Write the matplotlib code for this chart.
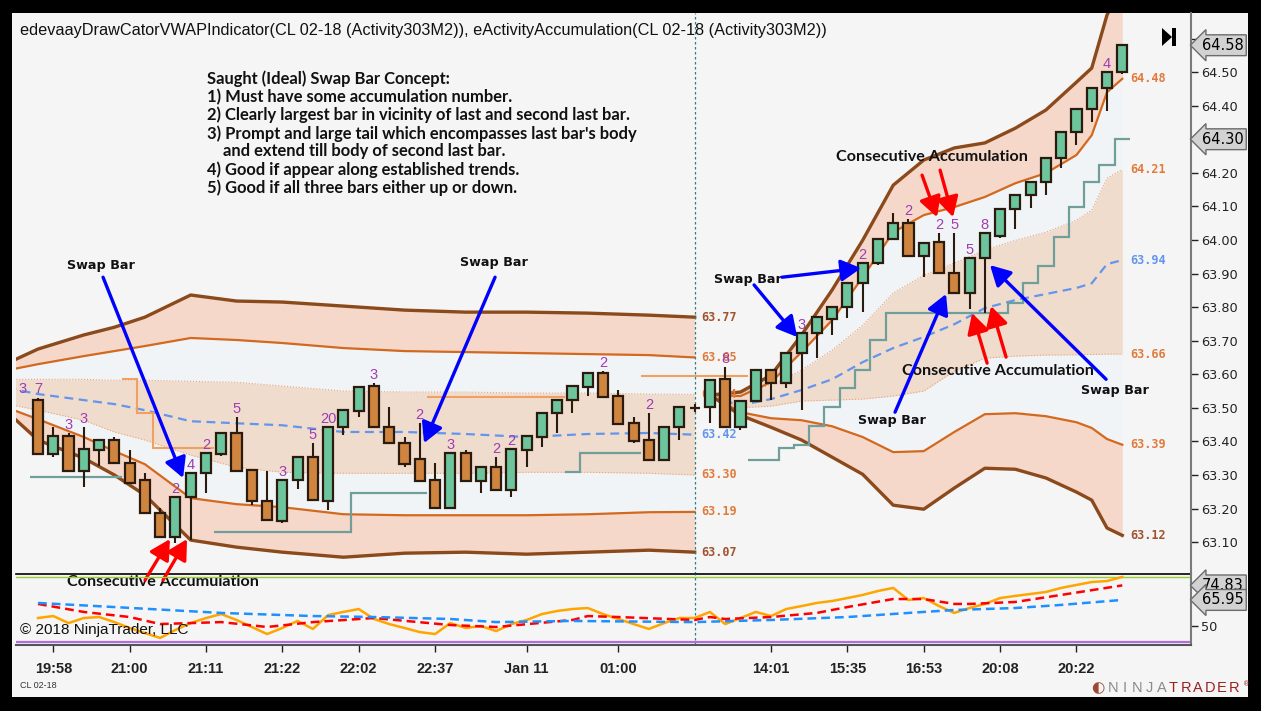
import matplotlib
matplotlib.use("Agg")
import matplotlib.pyplot as plt
from matplotlib.patches import Rectangle, Polygon

# ─────────────────────────────────────────────────────────────────────────────
# DATA (CL 02-18 Activity303M2 bars)
# ─────────────────────────────────────────────────────────────────────────────

bar_open = [63.523, 63.362, 63.416, 63.311, 63.374, 63.404, 63.335, 63.285, 63.186, 63.115,
            63.234, 63.305, 63.362, 63.425, 63.314, 63.222, 63.163, 63.285, 63.353, 63.222,
            63.443, 63.490, 63.565, 63.443, 63.395, 63.347, 63.285, 63.201, 63.365, 63.282,
            63.323, 63.255, 63.374, 63.413, 63.484, 63.523, 63.562, 63.603, 63.535, 63.454,
            63.404, 63.344, 63.443, 63.500, 63.502, 63.586, 63.443, 63.520, 63.612, 63.574,
            63.663, 63.722, 63.764, 63.800, 63.871, 63.931, 64.003, 64.050, 63.952, 63.994,
            63.901, 63.842, 63.946, 64.011, 64.092, 64.134, 64.172, 64.244, 64.321, 64.390,
            64.452, 64.500]
bar_high = [63.530, 63.443, 63.425, 63.443, 63.404, 63.413, 63.374, 63.305, 63.201, 63.234,
            63.305, 63.365, 63.425, 63.472, 63.314, 63.311, 63.285, 63.353, 63.395, 63.443,
            63.493, 63.562, 63.574, 63.502, 63.413, 63.454, 63.335, 63.365, 63.374, 63.323,
            63.353, 63.377, 63.416, 63.484, 63.523, 63.565, 63.603, 63.609, 63.553, 63.472,
            63.484, 63.443, 63.502, 63.512, 63.583, 63.621, 63.520, 63.612, 63.612, 63.663,
            63.722, 63.770, 63.800, 63.871, 63.931, 64.003, 64.080, 64.062, 63.991, 64.020,
            64.020, 63.946, 64.020, 64.092, 64.134, 64.172, 64.244, 64.321, 64.390, 64.452,
            64.500, 64.580]
bar_low = [63.362, 63.353, 63.311, 63.264, 63.326, 63.335, 63.276, 63.186, 63.115, 63.097,
           63.106, 63.246, 63.356, 63.311, 63.210, 63.165, 63.157, 63.258, 63.225, 63.195,
           63.419, 63.472, 63.443, 63.395, 63.323, 63.282, 63.201, 63.201, 63.282, 63.246,
           63.255, 63.234, 63.323, 63.383, 63.425, 63.484, 63.535, 63.532, 63.451, 63.395,
           63.344, 63.344, 63.404, 63.488, 63.454, 63.443, 63.434, 63.520, 63.523, 63.559,
           63.493, 63.648, 63.717, 63.767, 63.785, 63.925, 64.003, 63.952, 63.889, 63.901,
           63.842, 63.794, 63.782, 64.006, 64.032, 64.095, 64.134, 64.214, 64.283, 64.351,
           64.384, 64.494]
bar_close = [63.362, 63.416, 63.311, 63.377, 63.404, 63.335, 63.276, 63.186, 63.115, 63.234,
             63.305, 63.365, 63.425, 63.311, 63.222, 63.165, 63.285, 63.353, 63.225, 63.443,
             63.493, 63.562, 63.443, 63.395, 63.332, 63.282, 63.201, 63.365, 63.282, 63.323,
             63.255, 63.377, 63.416, 63.484, 63.523, 63.565, 63.603, 63.532, 63.451, 63.401,
             63.344, 63.443, 63.502, 63.500, 63.583, 63.443, 63.520, 63.612, 63.574, 63.663,
             63.722, 63.770, 63.800, 63.871, 63.931, 64.003, 64.050, 63.952, 63.991, 63.901,
             63.842, 63.946, 64.020, 64.092, 64.134, 64.172, 64.244, 64.321, 64.390, 64.452,
             64.500, 64.580]

# accumulation counts printed over bars
acc_bar = [-1, 0, 2, 3, 9, 10, 11, 13, 16, 18, 19, 22, 25, 27, 30, 31, 37, 40,
           45, 50, 54, 57, 59, 60, 61, 62, 70]
acc_txt = ['3', '7', '3', '3', '2', '4', '2', '5', '3', '5', '20', '3', '2', '3', '2', '2', '2', '2',
           '8', '3', '2', '2', '2', '5', '5', '8', '4']

# VWAP + deviation bands, session 1
s1_x = [-2, 0, 3, 5, 7, 10, 13, 16, 20, 24, 28, 32, 36, 40, 43]
s1_outer_up = [63.633, 63.675, 63.717, 63.740, 63.770, 63.836, 63.818, 63.815, 63.803, 63.791,
               63.785, 63.785, 63.782, 63.776, 63.77]
s1_inner_up = [63.612, 63.630, 63.654, 63.669, 63.684, 63.708, 63.702, 63.693, 63.678, 63.669,
               63.666, 63.663, 63.660, 63.657, 63.65]
s1_mid_up = [63.585, 63.585, 63.585, 63.582, 63.582, 63.579, 63.576, 63.565, 63.550, 63.547,
             63.547, 63.544, 63.544, 63.541, 63.54]
s1_vwap = [63.559, 63.541, 63.523, 63.511, 63.493, 63.460, 63.454, 63.448, 63.428, 63.428,
           63.422, 63.413, 63.422, 63.425, 63.42]
s1_mid_dn = [63.511, 63.493, 63.463, 63.428, 63.404, 63.359, 63.323, 63.308, 63.305, 63.305,
             63.305, 63.308, 63.308, 63.305, 63.30]
s1_inner_dn = [63.500, 63.466, 63.413, 63.371, 63.332, 63.231, 63.213, 63.204, 63.183, 63.180,
               63.180, 63.180, 63.183, 63.189, 63.19]
s1_outer_dn = [63.487, 63.404, 63.350, 63.300, 63.240, 63.106, 63.085, 63.070, 63.055, 63.067,
               63.070, 63.064, 63.070, 63.076, 63.07]

# session 2
s2_x = [44, 46, 48, 50, 52, 54, 56, 58, 60, 62, 64, 66, 68, 69, 70, 71]
s2_outer_up = [63.538, 63.547, 63.597, 63.717, 63.851, 63.999, 64.163, 64.238, 64.274, 64.289,
               64.333, 64.387, 64.470, 64.512, 64.670, 64.76]
s2_inner_up = [63.538, 63.535, 63.576, 63.666, 63.761, 63.889, 64.023, 64.074, 64.098, 64.128,
               64.169, 64.199, 64.253, 64.312, 64.440, 64.48]
s2_mid_up = [63.535, 63.544, 63.568, 63.612, 63.672, 63.746, 63.842, 63.895, 63.931, 63.970,
             63.999, 64.023, 64.059, 64.089, 64.184, 64.21]
s2_vwap = [63.532, 63.508, 63.526, 63.553, 63.585, 63.636, 63.678, 63.711, 63.749, 63.797,
           63.821, 63.839, 63.857, 63.871, 63.928, 63.94]
s2_mid_dn = [63.532, 63.500, 63.505, 63.520, 63.523, 63.526, 63.535, 63.550, 63.609, 63.648,
             63.654, 63.657, 63.658, 63.659, 63.66, 63.66]
s2_inner_dn = [63.538, 63.487, 63.469, 63.463, 63.445, 63.413, 63.368, 63.371, 63.428, 63.481,
               63.484, 63.475, 63.457, 63.440, 63.407, 63.39]
s2_outer_dn = [63.538, 63.478, 63.442, 63.404, 63.353, 63.302, 63.210, 63.198, 63.261, 63.320,
               63.317, 63.291, 63.249, 63.225, 63.142, 63.12]

# step levels (edges in bar units)
teal_a_edges, teal_a_vals = [-0.5, 5.5], [63.294]
teal_b_edges, teal_b_vals = [11.5, 20.5, 25.5], [63.130, 63.246]
teal_c_edges, teal_c_vals = [34.5, 35.5, 39.5], [63.308, 63.365]
teal_d_edges = [46.5, 48.5, 49.5, 50.5, 51.5, 52.5, 53.5, 54.5, 55.5, 63.5, 64.5, 65.5, 66.5,
                67.5, 68.5, 69.5, 70.5, 71.5]
teal_d_vals = [63.344, 63.380, 63.390, 63.445, 63.502, 63.559, 63.612, 63.702, 63.782, 63.812,
               63.871, 63.922, 64.008, 64.098, 64.172, 64.223, 64.300]
orng_a_edges, orng_a_vals = [5.5, 6.5, 7.5, 11.5], [63.585, 63.484, 63.380]
orng_b_edges, orng_b_vals = [25.5, 34.5], [63.532]
orng_c_edges, orng_c_vals = [39.5, 46.5], [63.594]

# lower panel (eActivityAccumulation)
osc_fast = [54.9, 56.1, 51.8, 54.9, 55.5, 52.4, 48.8, 45.7, 42.7, 47.6,
            51.8, 54.9, 57.3, 53.7, 49.4, 45.1, 48.8, 53.1, 48.2, 56.7,
            58.6, 60.4, 54.3, 51.2, 48.8, 46.3, 45.1, 51.8, 48.8, 50.0,
            46.9, 51.2, 53.7, 57.3, 59.2, 60.4, 61.0, 57.3, 54.3, 51.2,
            48.2, 51.8, 54.9, 54.9, 58.6, 51.2, 54.9, 58.6, 56.1, 60.4,
            62.2, 64.1, 65.3, 67.1, 69.0, 71.4, 73.3, 65.9, 67.1, 62.2,
            58.0, 61.0, 63.5, 67.1, 68.4, 69.6, 70.8, 73.3, 75.1, 76.9,
            77.5, 80.0]
osc_red_x = [0, 3, 6, 8, 12, 15, 18, 22, 27, 30, 35, 36, 38, 43, 44, 45, 48, 51, 53, 56,
             58, 60, 61, 64, 67, 71]
osc_red = [63.5, 58.6, 55.5, 51.2, 52.4, 49.4, 52.4, 54.9, 50.6, 49.4, 53.7, 56.1, 55.5, 53.7,
           55.5, 54.3, 55.5, 58.0, 61.6, 66.5, 66.5, 63.5, 63.5, 64.7, 69.0, 74.83]
osc_blue_x = [0, 5, 12, 18, 22, 27, 30, 35, 43, 48, 53, 57, 60, 64, 67, 71]
osc_blue = [64.1, 61.6, 58.0, 56.1, 55.5, 54.3, 52.4, 53.1, 52.4, 53.7, 55.5, 58.0, 59.8,
            61.0, 62.9, 65.95]

tick_bars = [1, 6, 11, 16, 21, 26, 32, 38, 48, 53, 58, 63, 68]
tick_text = ['19:58', '21:00', '21:11', '21:22', '22:02', '22:37', 'Jan 11', '01:00',
             '14:01', '15:35', '16:53', '20:08', '20:22']

price_ticks = [63.1 + 0.1 * k for k in range(16)]

concept_lines = [
    "Saught (Ideal) Swap Bar Concept:",
    "1) Must have some accumulation number.",
    "2) Clearly largest bar in vicinity of last and second last bar.",
    "3) Prompt and large tail which encompasses last bar's body",
    "    and extend till body of second last bar.",
    "4) Good if appear along established trends.",
    "5) Good if all three bars either up or down.",
]

# ─────────────────────────────────────────────────────────────────────────────
# STYLE
# ─────────────────────────────────────────────────────────────────────────────

W, H = 1261, 711
BG = '#f5f5f5'
SALMON = '#f6d8cb'
TAN = '#efdccd'
INNER = '#f1f4f7'
BROWN = '#8b4a1c'
ORANGE = '#d2691e'
BLUE = '#6495ed'
UP = '#6cc59c'
DOWN = '#cf8540'
EDGE = '#2b1a0e'
PURPLE = '#a03cb4'
TEAL = '#6f9e9b'


def fx(px):
    return px / W


def fy(py):
    return 1 - py / H


fig = plt.figure(figsize=(W / 100, H / 100), dpi=100, facecolor='black')
fig.patches.append(Rectangle((fx(12), fy(697)), fx(1248) - fx(12), fy(13) - fy(697),
                             transform=fig.transFigure, facecolor=BG, edgecolor='none',
                             zorder=-10))

ax = fig.add_axes([fx(16), fy(574), fx(1191) - fx(16), fy(13) - fy(574)])
ax2 = fig.add_axes([fx(16), fy(645), fx(1191) - fx(16), fy(574) - fy(645)], sharex=ax)
for a in (ax, ax2):
    a.set_facecolor('none')
    a.set_xlim(-1.44, 75.5)
    for s in ('top', 'left'):
        a.spines[s].set_visible(False)
    a.spines['right'].set_color('#7a7a7a')
    a.spines['right'].set_linewidth(1.5)
ax.spines['bottom'].set_color('black')
ax.spines['bottom'].set_linewidth(1.2)
ax2.spines['bottom'].set_color('#555555')
ax2.spines['bottom'].set_linewidth(1.5)

ax.set_ylim(63.005, 64.676)
ax2.set_ylim(38.4, 81.8)

# ── bands ─────────────────────────────────────────────────────────────
for xs, ou, iu, mu, vw, md, idn, od in (
        (s1_x, s1_outer_up, s1_inner_up, s1_mid_up, s1_vwap, s1_mid_dn, s1_inner_dn, s1_outer_dn),
        (s2_x, s2_outer_up, s2_inner_up, s2_mid_up, s2_vwap, s2_mid_dn, s2_inner_dn, s2_outer_dn)):
    ax.fill_between(xs, idn, iu, color=INNER, lw=0, zorder=0.5)
    ax.fill_between(xs, iu, ou, color=SALMON, lw=0, zorder=0.6)
    ax.fill_between(xs, od, idn, color=SALMON, lw=0, zorder=0.6)
    ax.fill_between(xs, md, mu, color=TAN, lw=0, zorder=0.7)
    ax.plot(xs, mu, color='#e9a47a', lw=0.8, ls=':', zorder=1)
    ax.plot(xs, md, color='#e9a47a', lw=0.8, ls=':', zorder=1)
    ax.plot(xs, vw, color=BLUE, lw=1.6, ls=(0, (4, 2.5)), zorder=1.2)
    ax.plot(xs, iu, color=ORANGE, lw=1.6, zorder=1.3)
    ax.plot(xs, idn, color=ORANGE, lw=1.6, zorder=1.3)
    ax.plot(xs, ou, color=BROWN, lw=2.4, zorder=1.4)
    ax.plot(xs, od, color=BROWN, lw=2.4, zorder=1.4)

# step levels
for e, v in ((teal_a_edges, teal_a_vals), (teal_b_edges, teal_b_vals),
             (teal_c_edges, teal_c_vals), (teal_d_edges, teal_d_vals)):
    ax.stairs(v, e, baseline=None, color=TEAL, lw=1.6, zorder=1.6)
for e, v in ((orng_a_edges, orng_a_vals), (orng_b_edges, orng_b_vals),
             (orng_c_edges, orng_c_vals)):
    ax.stairs(v, e, baseline=None, color='#f0a060', lw=1.5, zorder=1.6)

# band end values
mono = dict(family='DejaVu Sans Mono', fontsize=8.5, fontweight='bold', va='center',
            ha='left', zorder=1.8)
for vals, col in ((s1_outer_up, '#a0522d'), (s1_inner_up, '#e07b3c'), (s1_mid_up, '#e07b3c'),
                  (s1_vwap, BLUE), (s1_mid_dn, '#e07b3c'), (s1_inner_dn, '#e07b3c'),
                  (s1_outer_dn, '#a0522d')):
    ax.text(s1_x[-1] + 0.4, vals[-1], f'{vals[-1]:.2f}', color=col, **mono)
for vals, col in ((s2_inner_up, '#e07b3c'), (s2_mid_up, '#e07b3c'), (s2_vwap, BLUE),
                  (s2_mid_dn, '#e07b3c'), (s2_inner_dn, '#e07b3c'), (s2_outer_dn, '#a0522d')):
    ax.text(s2_x[-1] + 0.5, vals[-1], f'{vals[-1]:.2f}', color=col, **mono)

# session break
for a in (ax, ax2):
    a.axvline(43, color='#2f7f7f', lw=0.9, ls=(0, (2, 2)), zorder=1.7)

# ── candles ───────────────────────────────────────────────────────────
for i in range(len(bar_open)):
    o, h, l, c = bar_open[i], bar_high[i], bar_low[i], bar_close[i]
    ax.plot([i, i], [l, h], color=EDGE, lw=1.5, zorder=2.8, solid_capstyle='butt')
    ax.add_patch(Rectangle((i - 0.33, min(o, c)), 0.66, abs(c - o),
                           facecolor=UP if c >= o else DOWN, edgecolor=EDGE, lw=1.6,
                           zorder=3))

for b, t in zip(acc_bar, acc_txt):
    ax.text(b, bar_high[max(b, 0)] + 0.004, t, color=PURPLE, fontsize=10.5,
            family='Liberation Sans', ha='center', va='bottom', zorder=4)

# ── annotations ───────────────────────────────────────────────────────
ax.text(11.07, 64.505, "\n".join(concept_lines), family='Lato', fontweight='bold',
        fontsize=11.9, va='top', ha='left', linespacing=1.13, color='#111111', zorder=5)

swap_kw = dict(family='DejaVu Sans', fontweight='bold', fontsize=9.2, ha='center',
               va='center', color='#111111', zorder=6)
for x, y in ((4.13, 63.925), (29.86, 63.934), (46.5, 63.883), (55.93, 63.463), (70.53, 63.553)):
    ax.text(x, y, 'Swap Bar', **swap_kw)

acc_kw = dict(family='Lato', fontweight='bold', fontsize=11.6, ha='center', va='center',
              color='#111111', zorder=6, clip_on=False)
for x, y in ((8.19, 62.981), (58.55, 64.247), (62.87, 63.609)):
    ax.text(x, y, 'Consecutive Accumulation', **acc_kw)

blue_arrows = [((4.26, 63.889), (9.5, 63.291)), ((29.93, 63.889), (25.28, 63.395)),
               ((48.72, 63.889), (53.9, 63.916)), ((46.89, 63.866), (49.71, 63.711)),
               ((56.12, 63.487), (59.46, 63.839)), ((69.94, 63.585), (62.34, 63.925))]
red_arrows = [((7.01, 62.987), (8.64, 63.109)), ((8.19, 62.987), (9.76, 63.109)),
              ((57.89, 64.193), (58.87, 64.068)), ((59.07, 64.208), (59.92, 64.068)),
              ((62.15, 63.633), (61.17, 63.782)), ((63.39, 63.651), (62.41, 63.803))]
for arrows, col in ((blue_arrows, '#0000ff'), (red_arrows, '#ff0000')):
    for tail, head in arrows:
        ax.annotate('', xy=head, xytext=tail, annotation_clip=False, zorder=7,
                    arrowprops=dict(arrowstyle='-|>,head_length=0.55,head_width=0.3',
                                    color=col, lw=2.4, mutation_scale=22,
                                    shrinkA=0, shrinkB=0))

# ── axes & ticks ──────────────────────────────────────────────────────
ax.yaxis.tick_right()
ax.set_yticks(price_ticks)
# labels under the last-price / level boxes are hidden, as on the platform
hidden = {f'{bar_close[-1]:.1f}', f'{teal_d_vals[-1]:.2f}'}
ax.set_yticklabels(['' if (f'{p:.2f}' in hidden or f'{p:.2f}' == '64.60') else f'{p:.2f}'
                    for p in price_ticks])
ax.tick_params(axis='y', direction='out', length=5, width=1, pad=2, labelsize=9.3,
               colors='#222222')
ax.tick_params(axis='x', bottom=False, labelbottom=False)

ax2.yaxis.tick_right()
ax2.set_yticks([50])
ax2.tick_params(axis='y', direction='out', length=5, width=1, pad=2, labelsize=9.3,
                colors='#222222')
ax2.set_xticks(tick_bars)
ax2.set_xticklabels(tick_text, family='Liberation Sans', fontweight='bold', fontsize=10.5)
ax2.tick_params(axis='x', direction='out', length=5, width=1, pad=7, colors='#222222')

box_kw = dict(va='center', ha='left', fontsize=10.5, color='black', zorder=10, clip_on=False,
              bbox=dict(boxstyle='larrow,pad=0.2', fc='#d2d2d2', ec='#6b6b6b', lw=1))
ax.text(1.009, bar_close[-1], f'{bar_close[-1]:.2f}', transform=ax.get_yaxis_transform(),
        **box_kw)
ax.text(1.009, teal_d_vals[-1], f'{teal_d_vals[-1]:.2f}', transform=ax.get_yaxis_transform(),
        **box_kw)
ax2.text(1.009, osc_red[-1], f'{osc_red[-1]:.2f}', transform=ax2.get_yaxis_transform(),
         **box_kw)
ax2.text(1.009, osc_blue[-1], f'{osc_blue[-1]:.2f}', transform=ax2.get_yaxis_transform(),
         **box_kw)

# ── lower panel ───────────────────────────────────────────────────────
ax2.axhline(80, color='#9acd32', lw=1.0, zorder=1)
ax2.axhline(40, color='#b36be0', lw=1.6, zorder=1)
ax2.plot(range(len(osc_fast)), osc_fast, color='#ffa500', lw=1.8, zorder=2)
ax2.plot(osc_red_x, osc_red, color='#ff0000', lw=1.8, ls=(0, (3.5, 2)), zorder=3)
ax2.plot(osc_blue_x, osc_blue, color='#1e90ff', lw=1.8, ls=(0, (3.5, 2)), zorder=3)

# ── chart furniture ───────────────────────────────────────────────────
fig.text(fx(20), fy(30), 'edevaayDrawCatorVWAPIndicator(CL 02-18 (Activity303M2)), '
         'eActivityAccumulation(CL 02-18 (Activity303M2))', family='Liberation Sans',
         fontsize=11.7, va='center', ha='left', color='#111111')
fig.text(fx(20), fy(630), '\u00a9 2018 NinjaTrader, LLC', family='Liberation Sans',
         fontsize=11, va='center', ha='left', color='#111111')
fig.text(fx(20), fy(686), 'CL 02-18', family='Liberation Sans', fontsize=6.5,
         va='center', ha='left', color='#333333')
for k, ch in enumerate('NINJATRADER'):
    fig.text(fx(1113 + k * 12.1), fy(688), ch, family='Liberation Sans', fontsize=10.5,
             va='center', ha='center', color='#8a8a8a' if k < 5 else '#9b2020')
fig.text(fx(1243), fy(684), '\u00ae', fontsize=5, va='center', ha='left', color='#9b2020')
fig.text(fx(1098), fy(688), '\u25d0', fontsize=11, va='center', ha='center', color='#9b4a3a')

# "go to last bar" glyph
fig.patches.append(Polygon([(fx(1162), fy(28)), (fx(1162), fy(46)), (fx(1172), fy(37))],
                           closed=True, transform=fig.transFigure, facecolor='black'))
fig.patches.append(Rectangle((fx(1172), fy(46)), fx(4), fy(28) - fy(46),
                             transform=fig.transFigure, facecolor='black'))

fig.savefig('out.png', dpi=100, facecolor='black')
